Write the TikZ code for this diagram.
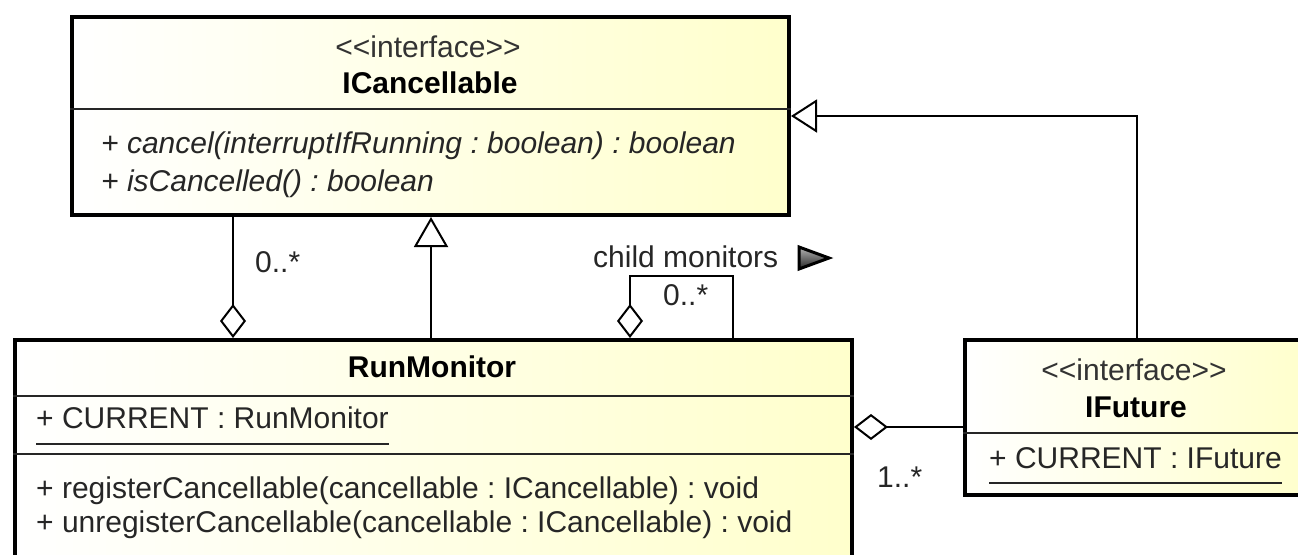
\documentclass[tikz,border=0pt]{standalone}
\usepackage{fontspec}
\setmainfont{Liberation Sans}
\usepackage{tikz}
\usetikzlibrary{arrows.meta,positioning}
\definecolor{classfill}{RGB}{255,255,204}
\frenchspacing

\begin{document}
\begin{tikzpicture}[x=1pt,y=-1pt]
\tikzstyle{cls}=[rectangle, draw=black, line width=4pt, left color=white, right color=classfill, anchor=north west, inner sep=0pt]
\tikzstyle{txt}=[inner sep=0pt, anchor=base, text=black!85, font=\fontsize{30}{36}\selectfont]
\tikzstyle{member}=[txt, anchor=base west]
\tikzstyle{divider}=[line width=2pt, black!85]
\tikzstyle{connect}=[line width=2pt]
\tikzstyle{aggr}=[connect, {Diamond[fill=white, length=34pt, width=26pt]}-]
\tikzstyle{gen}=[connect, -{Triangle[fill=white, length=30pt, width=34pt]}]
\useasboundingbox (0,0) rectangle (1298,554);
\clip (0,0) rectangle (1298,554);
% classes
\node[cls, minimum width=717pt, minimum height=198pt] (ICancellable) at (70,15) {};
\node[cls, minimum width=837pt, minimum height=230pt] (RunMonitor) at (13,338) {};
\node[cls, minimum width=343pt, minimum height=155pt] (IFuture) at (963,338) {};
\draw[divider] ([yshift=-94pt]ICancellable.north west) -- ([yshift=-94pt]ICancellable.north east);
\draw[divider] ([yshift=-58pt]RunMonitor.north west) -- ([yshift=-58pt]RunMonitor.north east);
\draw[divider] ([yshift=-116pt]RunMonitor.north west) -- ([yshift=-116pt]RunMonitor.north east);
\draw[divider] ([yshift=-95pt]IFuture.north west) -- ([yshift=-95pt]IFuture.north east);
% ICancellable
\node[txt, text=black!80] (cancStereo) at (428,57) {<{}<interface>{}>};
\node[txt, text=black, font=\fontsize{30}{36}\selectfont\bfseries] (cancName) at (430,93) {ICancellable};
\node[member, font=\fontsize{30}{36}\selectfont\itshape] (cancelOp) at (101,153) {+ cancel(interruptIfRunning : boolean) : boolean};
\node[member, font=\fontsize{30}{36}\selectfont\itshape] (isCancelledOp) at (101,191) {+ isCancelled() : boolean};
% RunMonitor
\node[txt, text=black, font=\fontsize{30}{36}\selectfont\bfseries] (monName) at (432,377) {RunMonitor};
\node[member] (monCurrent) at (36,428) {+ CURRENT : RunMonitor};
\draw[divider] ([yshift=-16pt]monCurrent.base west) -- ([yshift=-16pt]monCurrent.base east);
\node[member] (registerOp) at (36,498) {+ registerCancellable(cancellable : ICancellable) : void};
\node[member] (unregisterOp) at (36,532) {+ unregisterCancellable(cancellable : ICancellable) : void};
% IFuture
\node[txt, text=black!80] (futStereo) at (1134,380) {<{}<interface>{}>};
\node[txt, text=black, font=\fontsize{30}{36}\selectfont\bfseries] (futName) at (1136,417) {IFuture};
\node[member] (futCurrent) at (989,468) {+ CURRENT : IFuture};
\draw[divider] ([yshift=-15pt]futCurrent.base west) -- ([yshift=-15pt]futCurrent.base east);
% connectors
\coordinate (futAgg) at ([yshift=-89pt]RunMonitor.north east);
\path ([xshift=220pt]RunMonitor.north west) edge [aggr] ([xshift=163pt]ICancellable.south west)
  ([xshift=418pt]RunMonitor.north west) edge [gen] ([xshift=361pt]ICancellable.south west)
  (futAgg) edge [aggr] (futAgg -| IFuture.west);
\draw[gen, -{Triangle[fill=white, length=26pt, width=33pt]}] (IFuture.north) |- (ICancellable.east);
\draw[aggr] ([xshift=617pt]RunMonitor.north west) -- ++(0,-62) -| ([xshift=720pt]RunMonitor.north west);
% multiplicities
\node[member] (lblMany) at (255,272) {0..*};
\node[member] (lblChildren) at (593,267) {child monitors};
\node[member] (lblChildMany) at (663,305) {0..*};
\node[member] (lblFutures) at (877,487) {1..*};
\draw[line width=3pt, top color=gray!60, bottom color=black!85] (799,247) -- (829,258) -- (799,269) -- cycle;
\end{tikzpicture}
\end{document}
